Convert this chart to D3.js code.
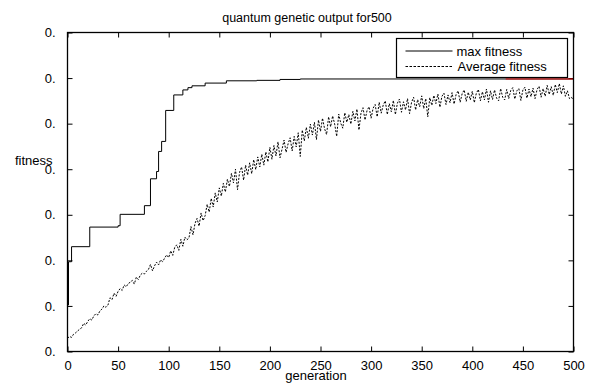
<!DOCTYPE html>
<html>
<head>
<meta charset="utf-8">
<script src="https://cdn.jsdelivr.net/npm/d3@7"></script>
<style>
  body { margin: 0; background: #fff; }
  text { font-family: "Liberation Sans", Arial, sans-serif; font-size: 13px; fill: #000; }
</style>
</head>
<body>
<svg id="chart" width="592" height="386"></svg>
<script>
// max fitness: generation where the best value changes, and the value
let maxGen = [0, 1, 4, 22, 50, 52, 76, 82, 88, 90, 93, 97, 105, 114, 119, 123, 136, 157, 187, 210, 230, 500];
let maxVal = [0.402, 0.497, 0.530, 0.573, 0.576, 0.601, 0.620, 0.679, 0.695, 0.739, 0.761, 0.829,
              0.863, 0.874, 0.879, 0.883, 0.889, 0.894, 0.895, 0.897, 0.898, 0.898];

// average fitness, read every 2 generations (0..500)
let avgVal = [
  0.329, 0.333, 0.331, 0.338, 0.341, 0.345, 0.349, 0.352, 0.362, 0.358,
  0.366, 0.372, 0.369, 0.378, 0.383, 0.380, 0.389, 0.393, 0.400, 0.397,
  0.402, 0.418, 0.414, 0.428, 0.421, 0.432, 0.438, 0.434, 0.446, 0.442,
  0.449, 0.452, 0.456, 0.448, 0.463, 0.458, 0.468, 0.472, 0.470, 0.476,
  0.480, 0.491, 0.477, 0.488, 0.496, 0.490, 0.501, 0.497, 0.505, 0.512,
  0.506, 0.521, 0.511, 0.529, 0.534, 0.522, 0.546, 0.531, 0.551, 0.545,
  0.549, 0.574, 0.556, 0.581, 0.592, 0.575, 0.604, 0.587, 0.598, 0.623,
  0.606, 0.636, 0.617, 0.648, 0.628, 0.659, 0.641, 0.669, 0.650, 0.678,
  0.662, 0.691, 0.670, 0.700, 0.655, 0.693, 0.705, 0.676, 0.709, 0.687,
  0.714, 0.690, 0.721, 0.699, 0.727, 0.705, 0.733, 0.709, 0.738, 0.716,
  0.748, 0.722, 0.752, 0.729, 0.760, 0.725, 0.744, 0.764, 0.737, 0.756,
  0.769, 0.740, 0.772, 0.749, 0.780, 0.728, 0.786, 0.762, 0.792, 0.768,
  0.799, 0.775, 0.803, 0.765, 0.808, 0.783, 0.812, 0.789, 0.776, 0.815,
  0.793, 0.817, 0.799, 0.772, 0.821, 0.801, 0.790, 0.824, 0.803, 0.820,
  0.799, 0.827, 0.806, 0.832, 0.786, 0.823, 0.835, 0.808, 0.829, 0.837,
  0.812, 0.834, 0.842, 0.815, 0.847, 0.823, 0.841, 0.850, 0.820, 0.844,
  0.826, 0.851, 0.820, 0.845, 0.854, 0.825, 0.848, 0.830, 0.855, 0.822,
  0.847, 0.858, 0.830, 0.853, 0.837, 0.861, 0.833, 0.855, 0.815, 0.857,
  0.840, 0.862, 0.844, 0.865, 0.836, 0.860, 0.867, 0.842, 0.863, 0.846,
  0.868, 0.843, 0.864, 0.872, 0.847, 0.866, 0.874, 0.849, 0.869, 0.852,
  0.871, 0.846, 0.867, 0.875, 0.850, 0.870, 0.852, 0.876, 0.847, 0.872,
  0.853, 0.874, 0.856, 0.850, 0.877, 0.858, 0.852, 0.875, 0.855, 0.873,
  0.879, 0.854, 0.872, 0.877, 0.851, 0.874, 0.880, 0.856, 0.876, 0.859,
  0.878, 0.855, 0.875, 0.882, 0.858, 0.877, 0.860, 0.884, 0.864, 0.881,
  0.862, 0.886, 0.868, 0.888, 0.865, 0.883, 0.860, 0.872, 0.855, 0.858,
  0.851
];
let avgStep = 2;

// short red segment sitting on the max line near the end
let redGen = [433, 500];
let redVal = [0.898, 0.898];

let xTicks = [0, 50, 100, 150, 200, 250, 300, 350, 400, 450, 500];
let yTicks = [0.3, 0.4, 0.5, 0.6, 0.7, 0.8, 0.9, 1.0];
let yTickLabel = "0.";

let title = "quantum genetic output for500";
let xTitle = "generation";
let yTitle = "fitness";
let legendNames = ["max fitness", "Average fitness"];

let svg = d3.select("#chart"),
    margin = {top: 32.5, right: 18.5, bottom: 34.5, left: 67.5},
    width = +svg.attr("width") - margin.left - margin.right,
    height = +svg.attr("height") - margin.top - margin.bottom,
    g = svg.append("g").attr("transform", "translate(" + margin.left + "," + margin.top + ")");

let x = d3.scaleLinear().domain([0, 500]).range([0, width]);
let y = d3.scaleLinear().domain([0.3, 1.0]).range([height, 0]);

svg.append("defs").append("clipPath").attr("id", "clip")
  .append("rect").attr("width", width).attr("height", height);

// axes, ticks pointing inward
function styleAxis(sel) {
  sel.select(".domain").remove();
  sel.selectAll(".tick line").attr("stroke", "#000");
  sel.selectAll(".tick text").style("font-size", "13px");
}

g.append("g")
  .attr("transform", "translate(0," + height + ")")
  .call(d3.axisBottom(x).tickValues(xTicks).tickSizeInner(-5).tickSizeOuter(0).tickPadding(9))
  .call(styleAxis);

g.append("g")
  .call(d3.axisTop(x).tickValues(xTicks).tickSizeInner(-5).tickSizeOuter(0).tickFormat(""))
  .call(styleAxis);

g.append("g")
  .call(d3.axisLeft(y).tickValues(yTicks).tickSizeInner(-5).tickSizeOuter(0).tickPadding(12)
    .tickFormat(() => yTickLabel))
  .call(styleAxis);

g.append("g")
  .attr("transform", "translate(" + width + ",0)")
  .call(d3.axisRight(y).tickValues(yTicks).tickSizeInner(-5).tickSizeOuter(0).tickFormat(""))
  .call(styleAxis);

let plot = g.append("g").attr("clip-path", "url(#clip)");

let maxLine = d3.line()
  .x((d, i) => x(maxGen[i]))
  .y(d => y(d))
  .curve(d3.curveStepAfter);

plot.append("path")
  .attr("d", maxLine(maxVal))
  .attr("fill", "none")
  .attr("stroke", "#000")
  .attr("stroke-width", 1);

let avgLine = d3.line()
  .x((d, i) => x(i * avgStep))
  .y(d => y(d));

plot.append("path")
  .attr("d", avgLine(avgVal))
  .attr("fill", "none")
  .attr("stroke", "#000")
  .attr("stroke-width", 1)
  .attr("stroke-dasharray", "2,1.5");

let redLine = d3.line()
  .x((d, i) => x(redGen[i]))
  .y(d => y(d));

plot.append("path")
  .attr("d", redLine(redVal))
  .attr("fill", "none")
  .attr("stroke", "#e00000")
  .attr("stroke-width", 1);

// frame
g.append("rect")
  .attr("width", width).attr("height", height)
  .attr("fill", "none").attr("stroke", "#000").attr("stroke-width", 1.3);

// legend
let leg = svg.append("g").attr("transform", "translate(396.5,38.5)");
leg.append("rect")
  .attr("width", 171).attr("height", 39)
  .attr("fill", "#fff").attr("stroke", "#000").attr("stroke-width", 1.2);
leg.append("line")
  .attr("x1", 9).attr("x2", 56).attr("y1", 12.5).attr("y2", 12.5)
  .attr("stroke", "#000");
leg.append("line")
  .attr("x1", 9).attr("x2", 56).attr("y1", 28).attr("y2", 28)
  .attr("stroke", "#000").attr("stroke-dasharray", "2.5,1.5");
leg.selectAll(".lt")
  .data(legendNames)
  .enter().append("text")
  .attr("x", (d, i) => i == 0 ? 60 : 61)
  .attr("y", (d, i) => i == 0 ? 17 : 32.5)
  .text(d => d);

// titles
svg.append("text")
  .attr("x", 307).attr("y", 22)
  .attr("text-anchor", "middle")
  .style("font-size", "12.5px")
  .text(title);

svg.append("text")
  .attr("x", 316).attr("y", 380)
  .attr("text-anchor", "middle")
  .text(xTitle);

svg.append("text")
  .attr("x", 15).attr("y", 165)
  .text(yTitle);
</script>
</body>
</html>
